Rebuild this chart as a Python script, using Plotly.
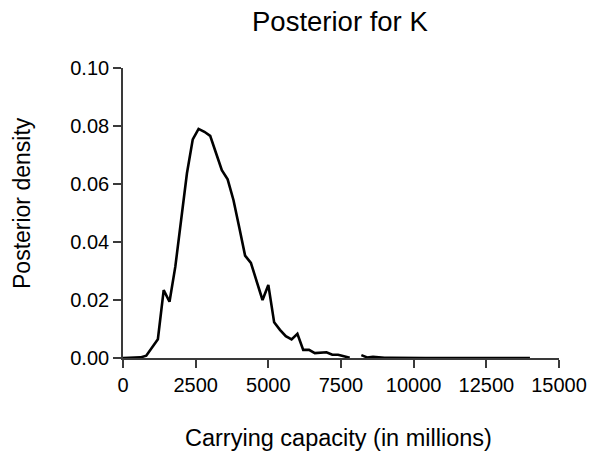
import plotly.graph_objects as go

# Carrying capacity grid (in millions)
capacity = [0, 200, 400, 600, 800, 1000, 1200, 1400, 1600, 1800,
            2000, 2200, 2400, 2600, 2800, 3000, 3200, 3400, 3600, 3800,
            4000, 4200, 4400, 4600, 4800, 5000, 5200, 5400, 5600, 5800,
            6000, 6200, 6400, 6600, 6800, 7000, 7200, 7400, 7600, 7800,
            8000, 8200, 8400, 8600, 8800, 9000, 9200, 9400, 9600, 9800,
            10000, 10200, 10400, 10600, 10800, 11000, 11200, 11400, 11600, 11800,
            12000, 12200, 12400, 12600, 12800, 13000, 13200, 13400, 13600, 13800,
            14000]

# Posterior density (None = gap in the curve)
density = [0.0, 0.0, 0.0, 0.0002, 0.0008, 0.0035, 0.0065, 0.0234, 0.0194, 0.0315,
           0.0470, 0.0637, 0.0754, 0.0790, 0.0780, 0.0766, 0.0707, 0.0648, 0.0616, 0.0545,
           0.0450, 0.0353, 0.0328, 0.0265, 0.0200, 0.0252, 0.0123, 0.0097, 0.0075, 0.0064,
           0.0083, 0.0028, 0.0028, 0.0017, 0.0019, 0.0020, 0.0011, 0.0011, 0.0006, 0.0001,
           None, 0.0010, 0.0002, 0.0004, 0.0002, 0.0001, 0.0001, 0.00005, 0.00005, 0.00005,
           0.00003, 0.00003, 0.00002, 0.00002, 0.00002, 0.00001, 0.00001, 0.00001, 0.00001, 0.0,
           0.0, 0.0, 0.0, 0.0, 0.0, 0.0, 0.0, 0.0, 0.0, 0.0,
           0.0]

x_ticks = [0, 2500, 5000, 7500, 10000, 12500, 15000]
y_ticks = [0.00, 0.02, 0.04, 0.06, 0.08, 0.10]

FONT = "Arial, 'Liberation Sans', sans-serif"
AXIS_COLOR = "#3a3a3a"

fig = go.Figure()
fig.add_trace(go.Scatter(
    x=capacity, y=density, mode="lines",
    line=dict(color="black", width=2.6),
    connectgaps=False, showlegend=False, hoverinfo="x+y",
))

W, H = 591, 456
L, R, T, B = 123, 32, 68, 98
pw, ph = W - L - R, H - T - B

def px_to_paper_y(py):
    return (H - B - py) / ph

def px_to_paper_x(px):
    return (px - L) / pw

fig.update_layout(
    width=W, height=H,
    margin=dict(l=L, r=R, t=T, b=B, pad=0, autoexpand=False),
    paper_bgcolor="white", plot_bgcolor="white",
    font=dict(family=FONT, color="black", size=20),
    xaxis=dict(
        range=[0, 15000], tickvals=x_ticks, ticktext=[str(v) for v in x_ticks],
        automargin=False,
        showgrid=False, zeroline=False, showline=True, linecolor=AXIS_COLOR, linewidth=1.6,
        ticks="outside", ticklen=8, tickwidth=1.6, tickcolor=AXIS_COLOR,
        tickfont=dict(size=20, family=FONT, color="black"),
    ),
    yaxis=dict(
        range=[0, 0.1], tickvals=y_ticks, ticktext=[f"{v:.2f}" for v in y_ticks],
        automargin=False,
        showgrid=False, zeroline=False, showline=True, linecolor=AXIS_COLOR, linewidth=1.6,
        ticks="outside", ticklen=8, tickwidth=1.6, tickcolor=AXIS_COLOR,
        tickfont=dict(size=20, family=FONT, color="black"),
    ),
    annotations=[
        dict(text="Posterior for K", xref="paper", yref="paper",
             x=px_to_paper_x(340), y=px_to_paper_y(22), xanchor="center", yanchor="middle",
             showarrow=False, font=dict(size=27.5, family=FONT, color="black")),
        dict(text="Carrying capacity (in millions)", xref="paper", yref="paper",
             x=px_to_paper_x(338), y=px_to_paper_y(438), xanchor="center", yanchor="middle",
             showarrow=False, font=dict(size=23.5, family=FONT, color="black")),
        dict(text="Posterior density", xref="paper", yref="paper",
             x=px_to_paper_x(22), y=px_to_paper_y(203), xanchor="center", yanchor="middle",
             textangle=-90, showarrow=False, font=dict(size=23, family=FONT, color="black")),
    ],
)

fig.write_html(
    "out.html",
    config={"displayModeBar": False},
    post_script="document.body.style.margin='0';document.body.style.overflow='hidden';",
)
